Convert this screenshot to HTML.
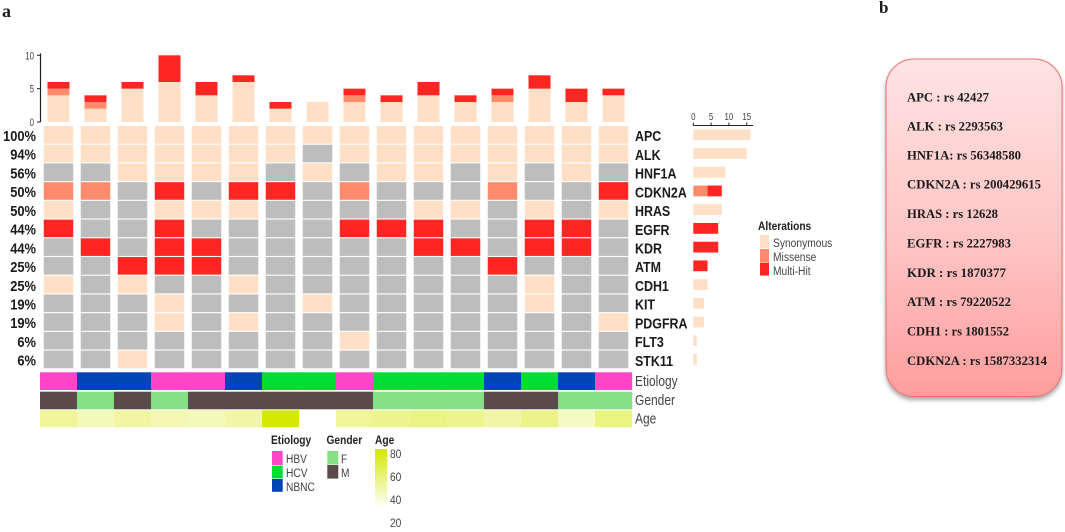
<!DOCTYPE html>
<html lang="en">
<head>
<meta charset="utf-8">
<title>Oncoplot and SNP list</title>
<style>
html,body{margin:0;padding:0;background:#fff;width:1065px;height:532px;overflow:hidden}
svg{display:block;font-family:"Liberation Sans",sans-serif;filter:blur(.3px)}
.serif{font-family:"Liberation Serif",serif;font-weight:bold;fill:#1a1a1a}
</style>
</head>
<body>
<svg id="chart" width="1065" height="532" viewBox="0 0 1065 532" xmlns="http://www.w3.org/2000/svg">
<defs>
<linearGradient id="boxGrad" x1="0" y1="0" x2="0" y2="1">
<stop offset="0" stop-color="#ffe3e3"/><stop offset="0.55" stop-color="#ffc4c4"/><stop offset="1" stop-color="#ff9d9d"/>
</linearGradient>
<linearGradient id="ageGrad" x1="0" y1="0" x2="0" y2="1">
<stop offset="0" stop-color="#d4e800"/><stop offset="1" stop-color="#ffffff"/>
</linearGradient>
<filter id="boxShadow" x="-10%" y="-10%" width="120%" height="120%">
<feDropShadow dx="0" dy="3" stdDeviation="2" flood-color="#000" flood-opacity="0.35"/>
</filter>
</defs>

<text class="serif" x="2" y="17" font-size="18" fill="#111">a</text>
<text class="serif" x="879" y="13" font-size="17" fill="#111">b</text>

<g id="marks"></g>

<g>
<text transform="translate(758,230) scale(.85,1)" font-size="12" font-weight="bold" fill="#222">Alterations</text>
<rect x="760" y="235" width="9" height="13.4" fill="#ffdfc6"/>
<rect x="760" y="249" width="9" height="13" fill="#fe8c6c"/>
<rect x="760" y="262.6" width="9" height="13" fill="#fe2622"/>
<text transform="translate(773,247) scale(.855,1)" font-size="12" fill="#444">Synonymous</text>
<text transform="translate(773,261) scale(.855,1)" font-size="12" fill="#444">Missense</text>
<text transform="translate(773,275) scale(.855,1)" font-size="12" fill="#444">Multi-Hit</text>
</g>

<g>
<text transform="translate(271,444) scale(.85,1)" font-size="12" font-weight="bold" fill="#222">Etiology</text>
<rect x="272" y="451" width="10.7" height="14" fill="#ff45c8"/>
<rect x="272" y="465.6" width="10.7" height="12.8" fill="#00dd33"/>
<rect x="272" y="479" width="10.7" height="12.8" fill="#0044b8"/>
<text transform="translate(286,463) scale(.85,1)" font-size="12" fill="#444">HBV</text>
<text transform="translate(286,477) scale(.85,1)" font-size="12" fill="#444">HCV</text>
<text transform="translate(286,491) scale(.85,1)" font-size="12" fill="#444">NBNC</text>

<text transform="translate(326.5,444) scale(.85,1)" font-size="12" font-weight="bold" fill="#222">Gender</text>
<rect x="327.3" y="451" width="11" height="13.5" fill="#85e085"/>
<rect x="327.3" y="465" width="11" height="13.6" fill="#5b4a4a"/>
<text transform="translate(341,463) scale(.85,1)" font-size="12" fill="#444">F</text>
<text transform="translate(341,477) scale(.85,1)" font-size="12" fill="#444">M</text>

<text transform="translate(375,444) scale(.85,1)" font-size="12" font-weight="bold" fill="#222">Age</text>
<rect x="375" y="449" width="12.3" height="59" fill="url(#ageGrad)"/>
<text transform="translate(390,458) scale(.85,1)" font-size="12" fill="#444">80</text>
<text transform="translate(390,481) scale(.85,1)" font-size="12" fill="#444">60</text>
<text transform="translate(390,504) scale(.85,1)" font-size="12" fill="#444">40</text>
<text transform="translate(390,527) scale(.85,1)" font-size="12" fill="#444">20</text>
</g>

<g>
<rect x="886" y="59" width="176" height="337.5" rx="28" ry="28" fill="url(#boxGrad)" stroke="#e96f6f" stroke-width="1" filter="url(#boxShadow)"/>
<g class="serif" font-size="13">
<text x="907" y="101.5" textLength="82" lengthAdjust="spacingAndGlyphs">APC : rs 42427</text>
<text x="907" y="130.5" textLength="96" lengthAdjust="spacingAndGlyphs">ALK : rs 2293563</text>
<text x="907" y="159.5" textLength="114" lengthAdjust="spacingAndGlyphs">HNF1A: rs 56348580</text>
<text x="907" y="188.5" textLength="134" lengthAdjust="spacingAndGlyphs">CDKN2A : rs 200429615</text>
<text x="907" y="218" textLength="91" lengthAdjust="spacingAndGlyphs">HRAS : rs 12628</text>
<text x="907" y="247.5" textLength="104" lengthAdjust="spacingAndGlyphs">EGFR : rs 2227983</text>
<text x="907" y="277" textLength="99" lengthAdjust="spacingAndGlyphs">KDR : rs  1870377</text>
<text x="907" y="306" textLength="104" lengthAdjust="spacingAndGlyphs">ATM : rs 79220522</text>
<text x="907" y="335.5" textLength="102" lengthAdjust="spacingAndGlyphs">CDH1 : rs 1801552</text>
<text x="907" y="365" textLength="140" lengthAdjust="spacingAndGlyphs">CDKN2A : rs 1587332314</text>
</g>
</g>
</svg>

<script>
// ---- chart data ----
const genes = ["APC","ALK","HNF1A","CDKN2A","HRAS","EGFR","KDR","ATM","CDH1","KIT","PDGFRA","FLT3","STK11"];
const percentLabels = ["100%","94%","56%","50%","50%","44%","44%","25%","25%","19%","19%","6%","6%"];
// 0 = none, 1 = synonymous, 2 = missense, 3 = multi-hit
const mutationMatrix = [
  [1,1,1,1,1,1,1,1,1,1,1,1,1,1,1,1],
  [1,1,1,1,1,1,1,0,1,1,1,1,1,1,1,1],
  [0,0,1,1,1,1,0,1,0,1,1,0,1,0,1,0],
  [2,2,0,3,0,3,3,0,2,0,0,0,2,0,0,3],
  [1,0,0,1,1,1,0,0,0,0,1,1,0,1,0,1],
  [3,0,0,3,0,0,0,0,3,3,3,0,0,3,3,0],
  [0,3,0,3,3,0,0,0,0,0,3,3,0,3,3,0],
  [0,0,3,3,3,0,0,0,0,0,0,0,3,0,0,0],
  [1,0,1,0,0,1,0,0,0,0,0,0,0,1,0,0],
  [0,0,0,1,0,0,0,1,0,0,0,0,0,1,0,0],
  [0,0,0,1,0,1,0,0,0,0,0,0,0,0,0,1],
  [0,0,0,0,0,0,0,0,1,0,0,0,0,0,0,0],
  [0,0,1,0,0,0,0,0,0,0,0,0,0,0,0,0]
];
const sampleSynonymous = [4,2,5,6,4,6,2,3,3,3,4,3,3,5,3,4];
const sampleMissense   = [1,1,0,0,0,0,0,0,1,0,0,0,1,0,0,0];
const sampleMultiHit   = [1,1,1,4,2,1,1,0,1,1,2,1,1,2,2,1];
const geneSynonymous = [16,15,9,0,8,0,0,0,4,3,3,1,1];
const geneMissense   = [0,0,0,4,0,0,0,0,0,0,0,0,0];
const geneMultiHit   = [0,0,0,4,0,7,7,4,0,0,0,0,0];
const etiology = ["HBV","NBNC","NBNC","HBV","HBV","NBNC","HCV","HCV","HBV","HCV","HCV","HCV","NBNC","HCV","NBNC","HBV"];
const gender = ["M","F","M","F","M","M","M","M","M","F","F","F","M","M","F","F"];
const age = [50,44,48,45,44,47,80,null,50,52,54,52,47,53,42,55];
const topTicks = [0,5,10];
const rightTicks = [0,5,10,15];
const trackNames = ["Etiology","Gender","Age"];

// ---- scales ----
const NS = "http://www.w3.org/2000/svg";
const root = document.getElementById("marks");
const alterationColors = ["#bdbdbd","#ffdfc6","#fe8c6c","#fe2622"];
const alterationNames = ["none","synonymous","missense","multi-hit"];
const etiologyColors = {HBV:"#ff45c8",HCV:"#00dd33",NBNC:"#0044b8"};
const genderColors = {F:"#85e085",M:"#5b4a4a"};
const colCenter = i => 58.5 + 37 * i;
const rowTop = i => 126 + 18.72 * i;
const trackX = i => 40 + 37 * i;
const yTop = v => 122 - v * 6.67;
const xRight = v => 693.3 + v * 3.56;
function ageColor(a){
  if (a === null) return "#ffffff";
  const t = Math.max(0, Math.min(1, (a - 30) / 50));
  const m = (hi) => Math.round(255 + (hi - 255) * t);
  return "rgb(" + m(212) + "," + m(232) + "," + m(0) + ")";
}
function mk(tag, attrs, parent){
  const el = document.createElementNS(NS, tag);
  for (const k in attrs) el.setAttribute(k, attrs[k]);
  (parent || root).appendChild(el);
  return el;
}

// ---- top stacked bars ----
sampleSynonymous.forEach(function(_, i){
  const stack = [sampleSynonymous[i], sampleMissense[i], sampleMultiHit[i]];
  let base = 0;
  stack.forEach(function(v, s){
    if (!v) return;
    const el = mk("rect", {x: colCenter(i) - 11, y: yTop(base + v), width: 22, height: yTop(base) - yTop(base + v), fill: alterationColors[s + 1]});
    
    
    base += v;
  });
});
const topAxis = mk("line", {x1: 40.5, x2: 40.5, y1: yTop(10) - 2, y2: yTop(0), stroke: "#222", "stroke-width": 1.2});


topTicks.forEach(function(t){
  const tick = mk("line", {x1: 37, x2: 40.5, y1: yTop(t), y2: yTop(t), stroke: "#222", "stroke-width": 1});
  
  
  const lab = mk("text", {transform: "translate(34," + (yTop(t) + 4) + ") scale(.72,1)", "text-anchor": "end", "font-size": 11, fill: "#444"});
  lab.textContent = t;
  
  
});

// ---- heatmap ----
mutationMatrix.forEach(function(row, r){
  row.forEach(function(v, c){
    const cell = mk("rect", {x: colCenter(c) - 14.75, y: rowTop(r), width: 29.5, height: 17.6, fill: alterationColors[v]});
    
    
  });
  const pct = mk("text", {transform: "translate(36," + (rowTop(r) + 15) + ") scale(.86,1)", "text-anchor": "end", "font-size": 15, "font-weight": "bold", fill: "#1a1a1a"});
  pct.textContent = percentLabels[r];
  
  
  const gene = mk("text", {transform: "translate(635," + (rowTop(r) + 15.2) + ") scale(.83,1)", "font-size": 15, "font-weight": "bold", fill: "#1a1a1a"});
  gene.textContent = genes[r];
  
  
});

// ---- right stacked bars ----
genes.forEach(function(g, r){
  const stack = [geneSynonymous[r], geneMissense[r], geneMultiHit[r]];
  let base = 0;
  stack.forEach(function(v, s){
    if (!v) return;
    const el = mk("rect", {x: xRight(base), y: rowTop(r) + 3.4, width: xRight(base + v) - xRight(base), height: 10.8, fill: alterationColors[s + 1]});
    
    
    base += v;
  });
});
const rightAxis = mk("line", {x1: xRight(0), x2: 753, y1: 125.5, y2: 125.5, stroke: "#222", "stroke-width": 1.1});


rightTicks.forEach(function(t){
  const tick = mk("line", {x1: xRight(t), x2: xRight(t), y1: 122.5, y2: 125.5, stroke: "#222", "stroke-width": 1});
  
  
  const lab = mk("text", {transform: "translate(" + xRight(t) + ",120) scale(.75,1)", "text-anchor": "middle", "font-size": 10.5, fill: "#444"});
  lab.textContent = t;
  
  
});

// ---- annotation tracks ----
etiology.forEach(function(v, i){
  const el = mk("rect", {x: trackX(i), y: 372.3, width: 37.2, height: 17.7, fill: etiologyColors[v]});
  
  
});
gender.forEach(function(v, i){
  const el = mk("rect", {x: trackX(i), y: 391.7, width: 37.2, height: 17.6, fill: genderColors[v]});
  
  
});
age.forEach(function(v, i){
  const el = mk("rect", {x: trackX(i), y: 410.3, width: 37.2, height: 17, fill: ageColor(v)});
  
  
});
trackNames.forEach(function(n, i){
  const lab = mk("text", {transform: "translate(635," + (386 + i * 18.8) + ") scale(.8,1)", "font-size": 15, fill: "#444"});
  lab.textContent = n;
  
  
});
</script>
</body>
</html>
